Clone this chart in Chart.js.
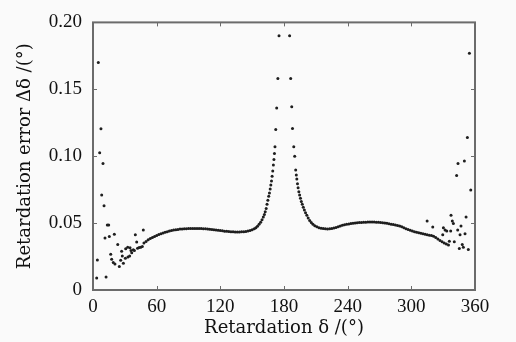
<!DOCTYPE html>
<html>
<head>
<meta charset="utf-8">
<script src="https://cdn.jsdelivr.net/npm/chart.js@4"></script>
<style>
  html, body { margin: 0; padding: 0; background: #fafafa; }
  #wrap { width: 516px; height: 342px; }
</style>
</head>
<body>
<div id="wrap"><canvas id="graficOne"></canvas></div>
<script>
// valores (retardo em graus, erro em graus)
const retardation = [
    // pontos espalhados no inicio
    3.5, 4.1, 5, 6.3, 7.5, 8.2, 9.4, 10.4, 11.3, 12.3, 13.5, 14.8, 15.4, 16.7, 17.6, 19.1, 20.1, 20.7,
    23.3, 24.8, 26.1, 27, 27.6, 28.6, 30.5, 30.8, 32.7, 32.9, 34.5, 34.9, 35.8, 36.5, 38, 39, 39.9, 41.2,
    42, 43.5, 45, 46.5, 47.4,
    // curva
    48, 50, 52, 54, 56, 58, 60, 62, 64, 66, 68, 70, 72, 74, 76, 78, 80, 82, 84, 86, 88, 90,
    92, 94, 96, 98, 100, 102, 104, 106, 108, 110, 112, 114, 116, 118, 120, 122, 124, 126, 128, 130,
    132, 134, 136, 138, 140, 142, 144, 146, 148, 150, 152, 153.5, 155, 156.5, 158, 159.3, 160.5,
    161.5, 162.3, 163.2, 164, 164.8, 165.6, 166.3, 167, 167.6, 168.2, 168.8, 169.4, 170, 170.5,
    171, 171.5, 172.2, 173.1, 174.2, 175.3,
    185.3, 186.3, 187.3, 188, 189.2, 190.1, 191, 191.6, 192.1, 192.7, 193.3, 194, 194.7, 195.5,
    196.3, 197.2, 198.2, 199.2, 200.3, 201.5, 202.8, 204.2, 205.7, 207.3, 209, 211, 213, 215, 217,
    219, 221, 223, 225, 227, 229, 231, 233, 235, 237, 239, 241, 243, 245, 247, 249, 251, 253, 255,
    257, 259, 261, 263, 265, 267, 269, 271, 273, 275, 277, 279, 281, 283, 285, 287, 289, 291, 293,
    295, 297, 299, 301, 303, 305, 307, 309, 311, 313, 315, 317, 319, 321, 323, 325, 327, 329, 331,
    333, 335,
    // pontos espalhados no fim
    314.9, 320.2, 329.6, 330.2, 331.8, 333.4, 335.8, 337.1, 337.4, 338.6, 339.6, 340.5, 342.7, 343.7,
    344, 345.2, 345.9, 346.8, 348, 349, 350, 350.6, 351.6, 352.8, 353.7, 354.7, 356
];
const retardationError = [
    0.009, 0.0225, 0.170, 0.1025, 0.1205, 0.071, 0.0945, 0.063, 0.0388, 0.0097, 0.0485, 0.0485, 0.040, 0.0267, 0.023, 0.0206, 0.0417, 0.0194,
    0.034, 0.0175, 0.0223, 0.029, 0.0255, 0.0199, 0.0238, 0.0308, 0.032, 0.0247, 0.0255, 0.0315, 0.0296, 0.0279, 0.030, 0.0296, 0.0412, 0.0359,
    0.0312, 0.0318, 0.032, 0.0325, 0.0448,
    0.0352, 0.0362, 0.0375, 0.0385, 0.0393, 0.0400, 0.0407, 0.0414, 0.0420, 0.0426, 0.0431, 0.0436, 0.0441, 0.0445, 0.0448, 0.0451, 0.0453, 0.0455, 0.0456, 0.0457, 0.0458, 0.0459,
    0.0460, 0.0460, 0.0460, 0.0460, 0.0460, 0.0459, 0.0458, 0.0457, 0.0456, 0.0454, 0.0452, 0.0450, 0.0448, 0.0446, 0.0444, 0.0442, 0.0440, 0.0439, 0.0437, 0.0436,
    0.0435, 0.0434, 0.0434, 0.0434, 0.0435, 0.0436, 0.0438, 0.0441, 0.0445, 0.0450, 0.0458, 0.0466, 0.0477, 0.0491, 0.0507, 0.0525, 0.0545,
    0.0565, 0.0585, 0.0610, 0.0640, 0.0670, 0.0700, 0.0725, 0.0755, 0.0785, 0.0815, 0.0850, 0.0890, 0.0935, 0.0975,
    0.1020, 0.1070, 0.1200, 0.1360, 0.1580, 0.1900,
    0.1900, 0.1580, 0.1370, 0.1207, 0.1070, 0.1000, 0.0897, 0.0860, 0.0830, 0.0795, 0.0765, 0.0735, 0.0710, 0.0685,
    0.0662, 0.0640, 0.0618, 0.0598, 0.0578, 0.0558, 0.0538, 0.0520, 0.0505, 0.0492, 0.0481, 0.0472, 0.0466, 0.0462, 0.0459,
    0.0457, 0.0456, 0.0457, 0.0460, 0.0464, 0.0468, 0.0473, 0.0478, 0.0483, 0.0487, 0.0491, 0.0494, 0.0497, 0.0499, 0.0501, 0.0503, 0.0504, 0.0505, 0.0506,
    0.0507, 0.0508, 0.0508, 0.0508, 0.0508, 0.0507, 0.0506, 0.0504, 0.0502, 0.0500, 0.0498, 0.0495, 0.0492, 0.0489, 0.0486, 0.0482, 0.0478, 0.0472, 0.0465,
    0.0458, 0.0452, 0.0446, 0.0441, 0.0436, 0.0432, 0.0428, 0.0425, 0.0420, 0.0416, 0.0413, 0.0410, 0.0407, 0.0402, 0.0392, 0.0381, 0.0370, 0.0360, 0.0352,
    0.0344, 0.0337,
    0.0516, 0.0470, 0.0412, 0.0465, 0.0448, 0.0441, 0.0364, 0.0441, 0.0558, 0.0516, 0.0497, 0.0360, 0.0856, 0.0448,
    0.0945, 0.0310, 0.0412, 0.0478, 0.0340, 0.0320, 0.0965, 0.0420, 0.0545, 0.114, 0.0303, 0.177, 0.0747
];
const xTicks = [0, 60, 120, 180, 240, 300, 360];
const yTicks = [0, 0.05, 0.10, 0.15, 0.20];

const points = retardation.map((r, i) => ({ x: r, y: retardationError[i] }));

// moldura com ticks pra dentro nos 4 lados
const moldura = {
    id: "moldura",
    beforeDraw(chart) {
        const c = chart.ctx;
        c.save();
        c.fillStyle = "#fafafa";
        c.fillRect(0, 0, chart.width, chart.height);
        c.restore();
    },
    afterDraw(chart) {
        const c = chart.ctx;
        const a = chart.chartArea;
        const sx = chart.scales.x;
        const sy = chart.scales.y;
        c.save();
        c.strokeStyle = "#6b6b6b";
        c.lineWidth = 1;
        c.beginPath();
        xTicks.forEach(v => {
            const px = Math.round(sx.getPixelForValue(v)) + 0.5;
            c.moveTo(px, a.bottom); c.lineTo(px, a.bottom - 4);
            c.moveTo(px, a.top); c.lineTo(px, a.top + 4);
        });
        yTicks.forEach(v => {
            const py = Math.round(sy.getPixelForValue(v)) + 0.5;
            c.moveTo(a.left, py); c.lineTo(a.left + 4, py);
            c.moveTo(a.right, py); c.lineTo(a.right - 4, py);
        });
        c.stroke();
        c.lineWidth = 2;
        c.strokeRect(a.left, a.top, a.right - a.left, a.bottom - a.top);
        c.restore();
    }
};

const ctx = document.getElementById("graficOne");
new Chart(ctx, {
    type: "scatter",
    data: {
        datasets: [
            {
                data: points,
                pointRadius: 1.5,
                pointHoverRadius: 1.5,
                pointBackgroundColor: "#1e1e1e",
                pointBorderWidth: 0
            }
        ]
    },
    options: {
        responsive: true,
        maintainAspectRatio: false,
        animation: false,
        layout: { padding: { top: 15, right: 41, left: 0, bottom: 0 } },
        plugins: { legend: { display: false }, tooltip: { enabled: false } },
        scales: {
            x: {
                type: "linear",
                min: 0,
                max: 360,
                afterBuildTicks: s => { s.ticks = xTicks.map(v => ({ value: v })); },
                afterFit: s => { s.height = 52; },
                border: { display: false },
                grid: { display: false, drawTicks: false },
                ticks: {
                    padding: 6,
                    color: "#111",
                    font: { family: "'Liberation Serif', serif", size: 19 }
                },
                title: {
                    display: true,
                    text: "Retardation δ /(°)",
                    color: "#111",
                    padding: { top: 0, bottom: 3 },
                    font: { family: "'DejaVu Serif', serif", size: 18 }
                }
            },
            y: {
                min: 0,
                max: 0.2,
                afterBuildTicks: s => { s.ticks = yTicks.map(v => ({ value: v })); },
                afterFit: s => { s.width = 93; },
                border: { display: false },
                grid: { display: false, drawTicks: false },
                ticks: {
                    padding: 11,
                    color: "#111",
                    font: { family: "'Liberation Serif', serif", size: 19 },
                    callback: v => (v === 0 ? "0" : v.toFixed(2))
                },
                title: {
                    display: true,
                    text: "Retardation error Δδ /(°)",
                    color: "#111",
                    padding: { top: 15, bottom: 0 },
                    font: { family: "'DejaVu Serif', serif", size: 18 }
                }
            }
        }
    },
    plugins: [moldura]
});
</script>
</body>
</html>
